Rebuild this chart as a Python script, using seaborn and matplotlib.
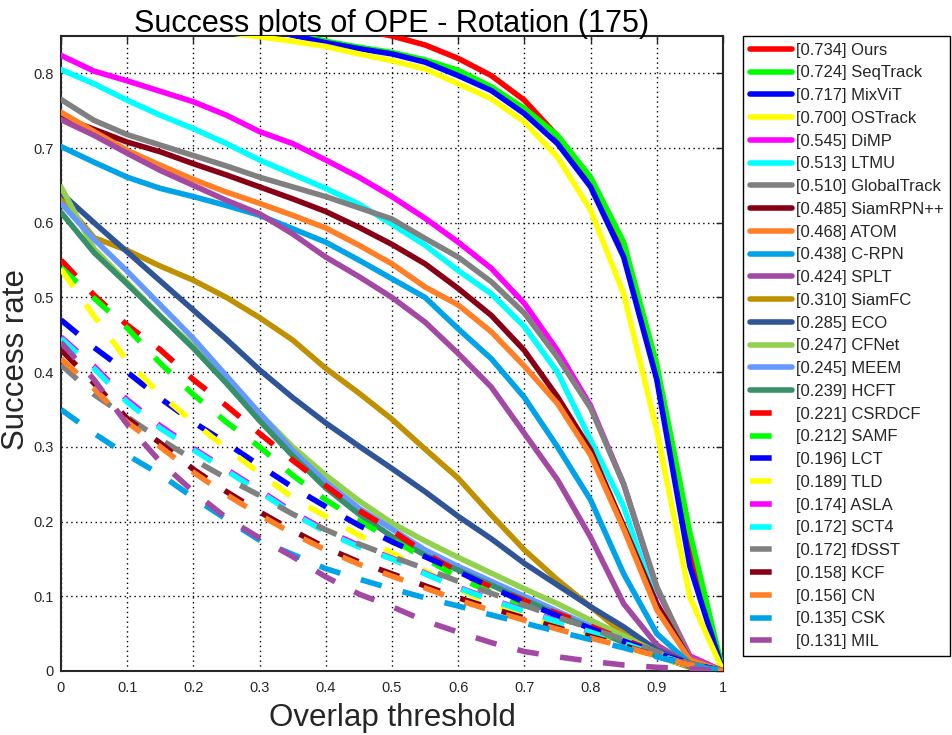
import numpy as np
import pandas as pd
import matplotlib
matplotlib.use("Agg")
import matplotlib.pyplot as plt
import seaborn as sns

# overlap thresholds (x axis)
thresholds = [0.0, 0.05, 0.1, 0.15, 0.2, 0.25, 0.3, 0.35, 0.4, 0.45, 0.5,
              0.55, 0.6, 0.65, 0.7, 0.75, 0.8, 0.85, 0.9, 0.95, 1.0]

trackers = ["Ours", "SeqTrack", "MixViT", "OSTrack", "DiMP", "LTMU", "GlobalTrack",
            "SiamRPN++", "ATOM", "C-RPN", "SPLT", "SiamFC", "ECO", "CFNet", "MEEM",
            "HCFT", "CSRDCF", "SAMF", "LCT", "TLD", "ASLA", "SCT4", "fDSST", "KCF",
            "CN", "CSK", "MIL"]
auc_scores = [0.734, 0.724, 0.717, 0.700, 0.545, 0.513, 0.510, 0.485, 0.468, 0.438,
              0.424, 0.310, 0.285, 0.247, 0.245, 0.239, 0.221, 0.212, 0.196, 0.189,
              0.174, 0.172, 0.172, 0.158, 0.156, 0.135, 0.131]

# success rate per threshold
ours = [0.93, 0.925, 0.92, 0.912, 0.905, 0.897, 0.888, 0.878, 0.868, 0.859, 0.85,
        0.838, 0.82, 0.797, 0.764, 0.716, 0.655, 0.565, 0.40, 0.16, 0.0]
seqtrack = [0.92, 0.915, 0.91, 0.905, 0.898, 0.89, 0.866, 0.853, 0.843, 0.835, 0.828,
            0.818, 0.804, 0.782, 0.753, 0.717, 0.661, 0.574, 0.41, 0.185, 0.0]
mixvit = [0.91, 0.905, 0.9, 0.894, 0.886, 0.875, 0.862, 0.851, 0.841, 0.833, 0.826,
          0.815, 0.797, 0.777, 0.746, 0.706, 0.648, 0.554, 0.39, 0.14, 0.0]
ostrack = [0.88, 0.875, 0.87, 0.866, 0.861, 0.855, 0.849, 0.843, 0.836, 0.826, 0.817,
           0.806, 0.786, 0.766, 0.735, 0.688, 0.617, 0.505, 0.322, 0.099, 0.0]
dimp = [0.824, 0.803, 0.790, 0.776, 0.762, 0.744, 0.722, 0.706, 0.684, 0.661, 0.635,
        0.606, 0.574, 0.539, 0.492, 0.429, 0.355, 0.25, 0.11, 0.02, 0.0]
ltmu = [0.805, 0.786, 0.764, 0.744, 0.726, 0.706, 0.684, 0.665, 0.646, 0.625, 0.598,
        0.57, 0.536, 0.505, 0.461, 0.40, 0.309, 0.22, 0.09, 0.015, 0.0]
globaltrack = [0.765, 0.737, 0.718, 0.704, 0.69, 0.676, 0.661, 0.648, 0.635, 0.62, 0.605,
               0.579, 0.554, 0.521, 0.479, 0.42, 0.352, 0.25, 0.113, 0.017, 0.0]
siamrpnpp = [0.742, 0.725, 0.708, 0.695, 0.679, 0.664, 0.648, 0.632, 0.615, 0.594, 0.571,
             0.545, 0.512, 0.476, 0.429, 0.367, 0.296, 0.194, 0.09, 0.015, 0.0]
atom = [0.748, 0.722, 0.697, 0.677, 0.658, 0.641, 0.626, 0.61, 0.593, 0.57, 0.545,
        0.514, 0.49, 0.454, 0.408, 0.358, 0.289, 0.19, 0.082, 0.015, 0.0]
crpn = [0.702, 0.681, 0.661, 0.646, 0.635, 0.623, 0.61, 0.592, 0.574, 0.55, 0.525,
        0.50, 0.458, 0.418, 0.366, 0.30, 0.229, 0.13, 0.05, 0.01, 0.0]
splt = [0.738, 0.717, 0.693, 0.670, 0.650, 0.630, 0.612, 0.585, 0.554, 0.528, 0.50,
        0.467, 0.425, 0.38, 0.318, 0.256, 0.179, 0.09, 0.035, 0.008, 0.0]
siamfc = [0.633, 0.58, 0.563, 0.542, 0.523, 0.50, 0.473, 0.443, 0.405, 0.372, 0.337,
          0.297, 0.258, 0.209, 0.162, 0.122, 0.086, 0.05, 0.02, 0.005, 0.0]
eco = [0.64, 0.60, 0.561, 0.522, 0.483, 0.444, 0.403, 0.366, 0.332, 0.301, 0.271,
       0.24, 0.207, 0.177, 0.144, 0.115, 0.086, 0.059, 0.028, 0.01, 0.0]
cfnet = [0.648, 0.565, 0.52, 0.475, 0.435, 0.39, 0.345, 0.30, 0.262, 0.228, 0.198,
         0.174, 0.152, 0.131, 0.11, 0.09, 0.068, 0.047, 0.025, 0.008, 0.0]
meem = [0.626, 0.578, 0.535, 0.49, 0.445, 0.395, 0.345, 0.295, 0.253, 0.218, 0.19,
        0.162, 0.14, 0.12, 0.10, 0.08, 0.06, 0.04, 0.02, 0.006, 0.0]
hcft = [0.614, 0.56, 0.518, 0.475, 0.432, 0.385, 0.335, 0.288, 0.245, 0.21, 0.18,
        0.155, 0.135, 0.115, 0.095, 0.076, 0.057, 0.038, 0.02, 0.006, 0.0]
csrdcf = [0.55, 0.503, 0.463, 0.43, 0.39, 0.355, 0.318, 0.282, 0.248, 0.215, 0.188,
          0.158, 0.132, 0.112, 0.094, 0.077, 0.06, 0.042, 0.025, 0.01, 0.0]
samf = [0.54, 0.499, 0.459, 0.412, 0.37, 0.333, 0.30, 0.262, 0.229, 0.201, 0.176,
        0.151, 0.125, 0.105, 0.088, 0.072, 0.056, 0.04, 0.023, 0.009, 0.0]
lct = [0.47, 0.433, 0.40, 0.365, 0.333, 0.305, 0.275, 0.246, 0.22, 0.195, 0.173,
       0.153, 0.133, 0.112, 0.092, 0.074, 0.057, 0.04, 0.024, 0.01, 0.0]
tld = [0.538, 0.475, 0.415, 0.37, 0.333, 0.298, 0.265, 0.232, 0.207, 0.182, 0.158,
       0.134, 0.11, 0.09, 0.074, 0.06, 0.047, 0.033, 0.019, 0.007, 0.0]
asla = [0.447, 0.408, 0.363, 0.328, 0.298, 0.27, 0.242, 0.213, 0.188, 0.168, 0.151,
        0.131, 0.112, 0.096, 0.081, 0.067, 0.052, 0.037, 0.022, 0.008, 0.0]
sct4 = [0.445, 0.405, 0.36, 0.325, 0.296, 0.268, 0.24, 0.211, 0.186, 0.166, 0.15,
        0.13, 0.111, 0.095, 0.08, 0.066, 0.052, 0.037, 0.022, 0.008, 0.0]
fdsst = [0.41, 0.37, 0.34, 0.31, 0.283, 0.258, 0.235, 0.21, 0.189, 0.17, 0.153,
         0.137, 0.12, 0.104, 0.088, 0.072, 0.057, 0.042, 0.026, 0.01, 0.0]
kcf = [0.43, 0.385, 0.338, 0.305, 0.27, 0.24, 0.213, 0.188, 0.165, 0.146, 0.13,
       0.114, 0.098, 0.084, 0.071, 0.058, 0.046, 0.034, 0.02, 0.008, 0.0]
cn = [0.418, 0.378, 0.333, 0.30, 0.266, 0.236, 0.209, 0.184, 0.162, 0.143, 0.127,
      0.111, 0.095, 0.081, 0.068, 0.056, 0.044, 0.033, 0.02, 0.008, 0.0]
csk = [0.35, 0.318, 0.289, 0.263, 0.232, 0.203, 0.175, 0.156, 0.137, 0.123, 0.11,
       0.098, 0.087, 0.075, 0.064, 0.053, 0.042, 0.031, 0.019, 0.008, 0.0]
mil = [0.44, 0.39, 0.33, 0.28, 0.24, 0.205, 0.178, 0.153, 0.126, 0.103, 0.086,
       0.067, 0.052, 0.038, 0.026, 0.019, 0.013, 0.008, 0.005, 0.003, 0.0]

curves = [ours, seqtrack, mixvit, ostrack, dimp, ltmu, globaltrack, siamrpnpp, atom,
          crpn, splt, siamfc, eco, cfnet, meem, hcft, csrdcf, samf, lct, tld, asla,
          sct4, fdsst, kcf, cn, csk, mil]

base_colors = ["#ff0000", "#00ff00", "#0000ff", "#ffff00", "#ff00ff", "#00ffff",
               "#808080", "#880015", "#ff7f27", "#00a2e8", "#a349a4"]
extra_colors = ["#bf9000", "#2f5597", "#92d050", "#6699ff", "#37906a"]
colors = base_colors + extra_colors + base_colors
n_solid = 16

sns.set_theme(style="white")
plt.rcParams["font.family"] = ["Liberation Sans", "DejaVu Sans"]

fig = plt.figure(figsize=(9.52, 7.35), dpi=100)
ax = fig.add_axes([61 / 952, 64 / 735, 662 / 952, 635 / 735])

for i, (name, auc, vals) in enumerate(zip(trackers, auc_scores, curves)):
    ls = "-" if i < n_solid else (0, (3.9, 3.9))
    sns.lineplot(x=thresholds, y=vals, ax=ax, color=colors[i], lw=4, ls=ls,
                 label=f"[{auc:.3f}] {name}", zorder=3 + i * 0.01)

ax.set_xlim(0, 1)
ax.set_ylim(0, 0.85)
xt = [0, 0.1, 0.2, 0.3, 0.4, 0.5, 0.6, 0.7, 0.8, 0.9, 1]
yt = [0, 0.1, 0.2, 0.3, 0.4, 0.5, 0.6, 0.7, 0.8]
ax.set_xticks(xt)
ax.set_xticklabels(["0", "0.1", "0.2", "0.3", "0.4", "0.5", "0.6", "0.7", "0.8", "0.9", "1"])
ax.set_yticks(yt)
ax.set_yticklabels(["0", "0.1", "0.2", "0.3", "0.4", "0.5", "0.6", "0.7", "0.8"])
ax.tick_params(direction="in", top=True, right=True, length=5, width=1,
               labelsize=10.5, labelcolor="#262626", color="#262626")
ax.tick_params(axis="x", pad=7)
ax.tick_params(axis="y", pad=5)
ax.grid(True, linestyle=(0, (1, 2.5)), color="black", linewidth=1)
ax.set_axisbelow(True)
for sp in ax.spines.values():
    sp.set_color("#262626")
    sp.set_linewidth(1.5)

ax.set_title("Success plots of OPE - Rotation (175)", fontsize=22, pad=3, color="black")
ax.set_xlabel("Overlap threshold", fontsize=22.5, color="#262626")
ax.set_ylabel("Success rate", fontsize=22.5, color="#262626")
ax.xaxis.set_label_coords(0.5, -0.051)
ax.yaxis.set_label_coords(-0.045, 0.49)

handles, labels = ax.get_legend_handles_labels()
leg = ax.legend(handles, labels, loc="upper left", bbox_to_anchor=(743 / 952, 1 - 36 / 735),
                bbox_transform=fig.transFigure, fontsize=12, frameon=True,
                fancybox=False, framealpha=1, edgecolor="black", borderpad=0.4,
                labelspacing=0.465, handlelength=2.55, handletextpad=0.2,
                borderaxespad=0)
leg.get_frame().set_linewidth(1)

fig.savefig("out.png", dpi=100)
